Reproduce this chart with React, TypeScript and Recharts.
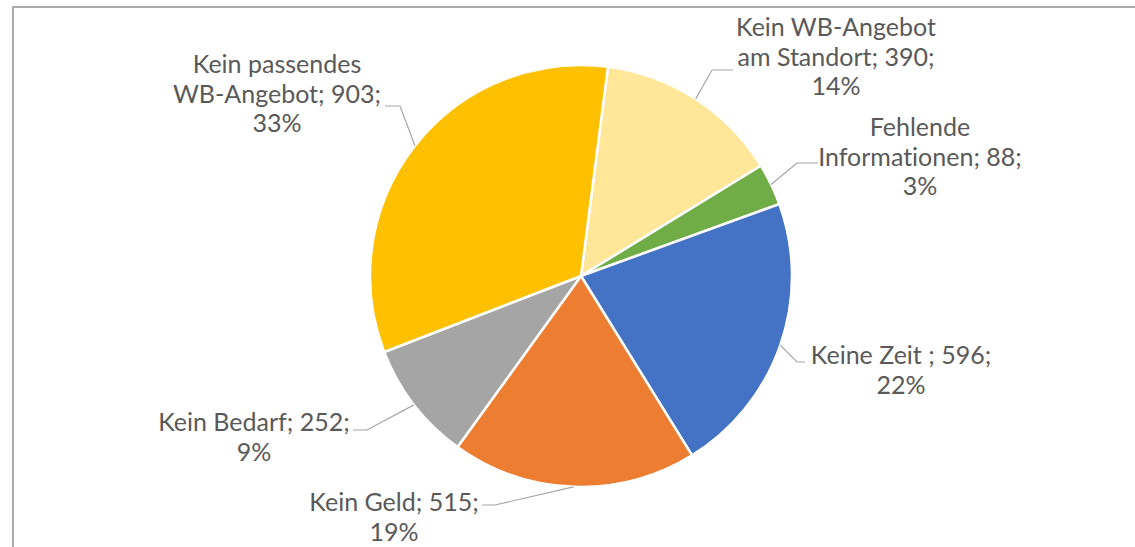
import { PieChart, Pie, Cell } from 'recharts';

// category names split into the lines shown in the label (last line gets "; value;")
const categories = [
  ['Kein WB-Angebot', 'am Standort'],
  ['Fehlende', 'Informationen'],
  ['Keine Zeit '],
  ['Kein Geld'],
  ['Kein Bedarf'],
  ['Kein passendes', 'WB-Angebot'],
];
const counts = [390, 88, 596, 515, 252, 903];
const colors = ['#FFE699', '#70AD47', '#4472C4', '#ED7D31', '#A5A5A5', '#FFC000'];

// label placement relative to pie centre: text centre x, first line y, leader elbow and end
const labelLayout = [
  { tx: 255, ty: -250, elbow: [131, -206], end: [152, -206] },
  { tx: 339, ty: -150, elbow: [216, -113], end: [237, -113] },
  { tx: 320, ty: 78, elbow: [216, 86], end: [224, 86] },
  { tx: -187, ty: 225, elbow: [-86, 229], end: [-99, 229] },
  { tx: -327, ty: 145, elbow: [-214, 154], end: [-228, 154] },
  { tx: -304, ty: -213, elbow: [-181, -170], end: [-196, -170] },
];

const total = counts.reduce((a, b) => a + b, 0);
const data = categories.map((lines, i) => ({
  name: lines.join(' '),
  lines,
  value: counts[i],
}));

const RAD = Math.PI / 180;
const LINE_H = 29.5;

function renderLabel(props: any) {
  const { cx, cy, midAngle, outerRadius, index } = props;
  const d = data[index];
  const lay = labelLayout[index];
  const sx = cx + outerRadius * Math.cos(-midAngle * RAD);
  const sy = cy + outerRadius * Math.sin(-midAngle * RAD);
  const textLines = d.lines.slice();
  textLines[textLines.length - 1] = `${textLines[textLines.length - 1]}; ${d.value};`;
  textLines.push(`${Math.round((d.value / total) * 100)}%`);
  const pts = `${sx},${sy} ${cx + lay.elbow[0]},${cy + lay.elbow[1]} ${cx + lay.end[0]},${cy + lay.end[1]}`;
  return (
    <g key={`lbl-${index}`}>
      <polyline points={pts} fill="none" stroke="#A6A6A6" strokeWidth={1.2} />
      <text
        x={cx + lay.tx}
        y={cy + lay.ty}
        textAnchor="middle"
        dominantBaseline="central"
        fill="#595959"
        style={{ fontFamily: 'Lato, sans-serif', fontSize: 25, fontVariantLigatures: 'none' }}
      >
        {textLines.map((t, k) => (
          <tspan key={k} x={cx + lay.tx} dy={k === 0 ? 0 : LINE_H}>
            {t}
          </tspan>
        ))}
      </text>
    </g>
  );
}

export default function App() {
  return (
    <div
      style={{
        position: 'fixed',
        left: 0,
        top: 0,
        width: 1135,
        height: 547,
        background: '#FFFFFF',
        overflow: 'hidden',
      }}
    >
      <div
        style={{
          position: 'absolute',
          left: 12,
          top: 6,
          width: 1200,
          height: 600,
          borderLeft: '2px solid #ABABAB',
          borderTop: '2px solid #ABABAB',
        }}
      />
      <div style={{ position: 'absolute', left: 0, top: 0 }}>
        <PieChart width={1135} height={547} margin={{ top: 0, right: 0, bottom: 0, left: 0 }}>
          <Pie
            data={data}
            dataKey="value"
            nameKey="name"
            cx={581}
            cy={276}
            outerRadius={211}
            startAngle={82.65}
            endAngle={-277.35}
            stroke="#FFFFFF"
            strokeWidth={2.5}
            label={renderLabel}
            labelLine={false}
            isAnimationActive={false}
          >
            {data.map((_, i) => (
              <Cell key={i} fill={colors[i]} />
            ))}
          </Pie>
        </PieChart>
      </div>
    </div>
  );
}
